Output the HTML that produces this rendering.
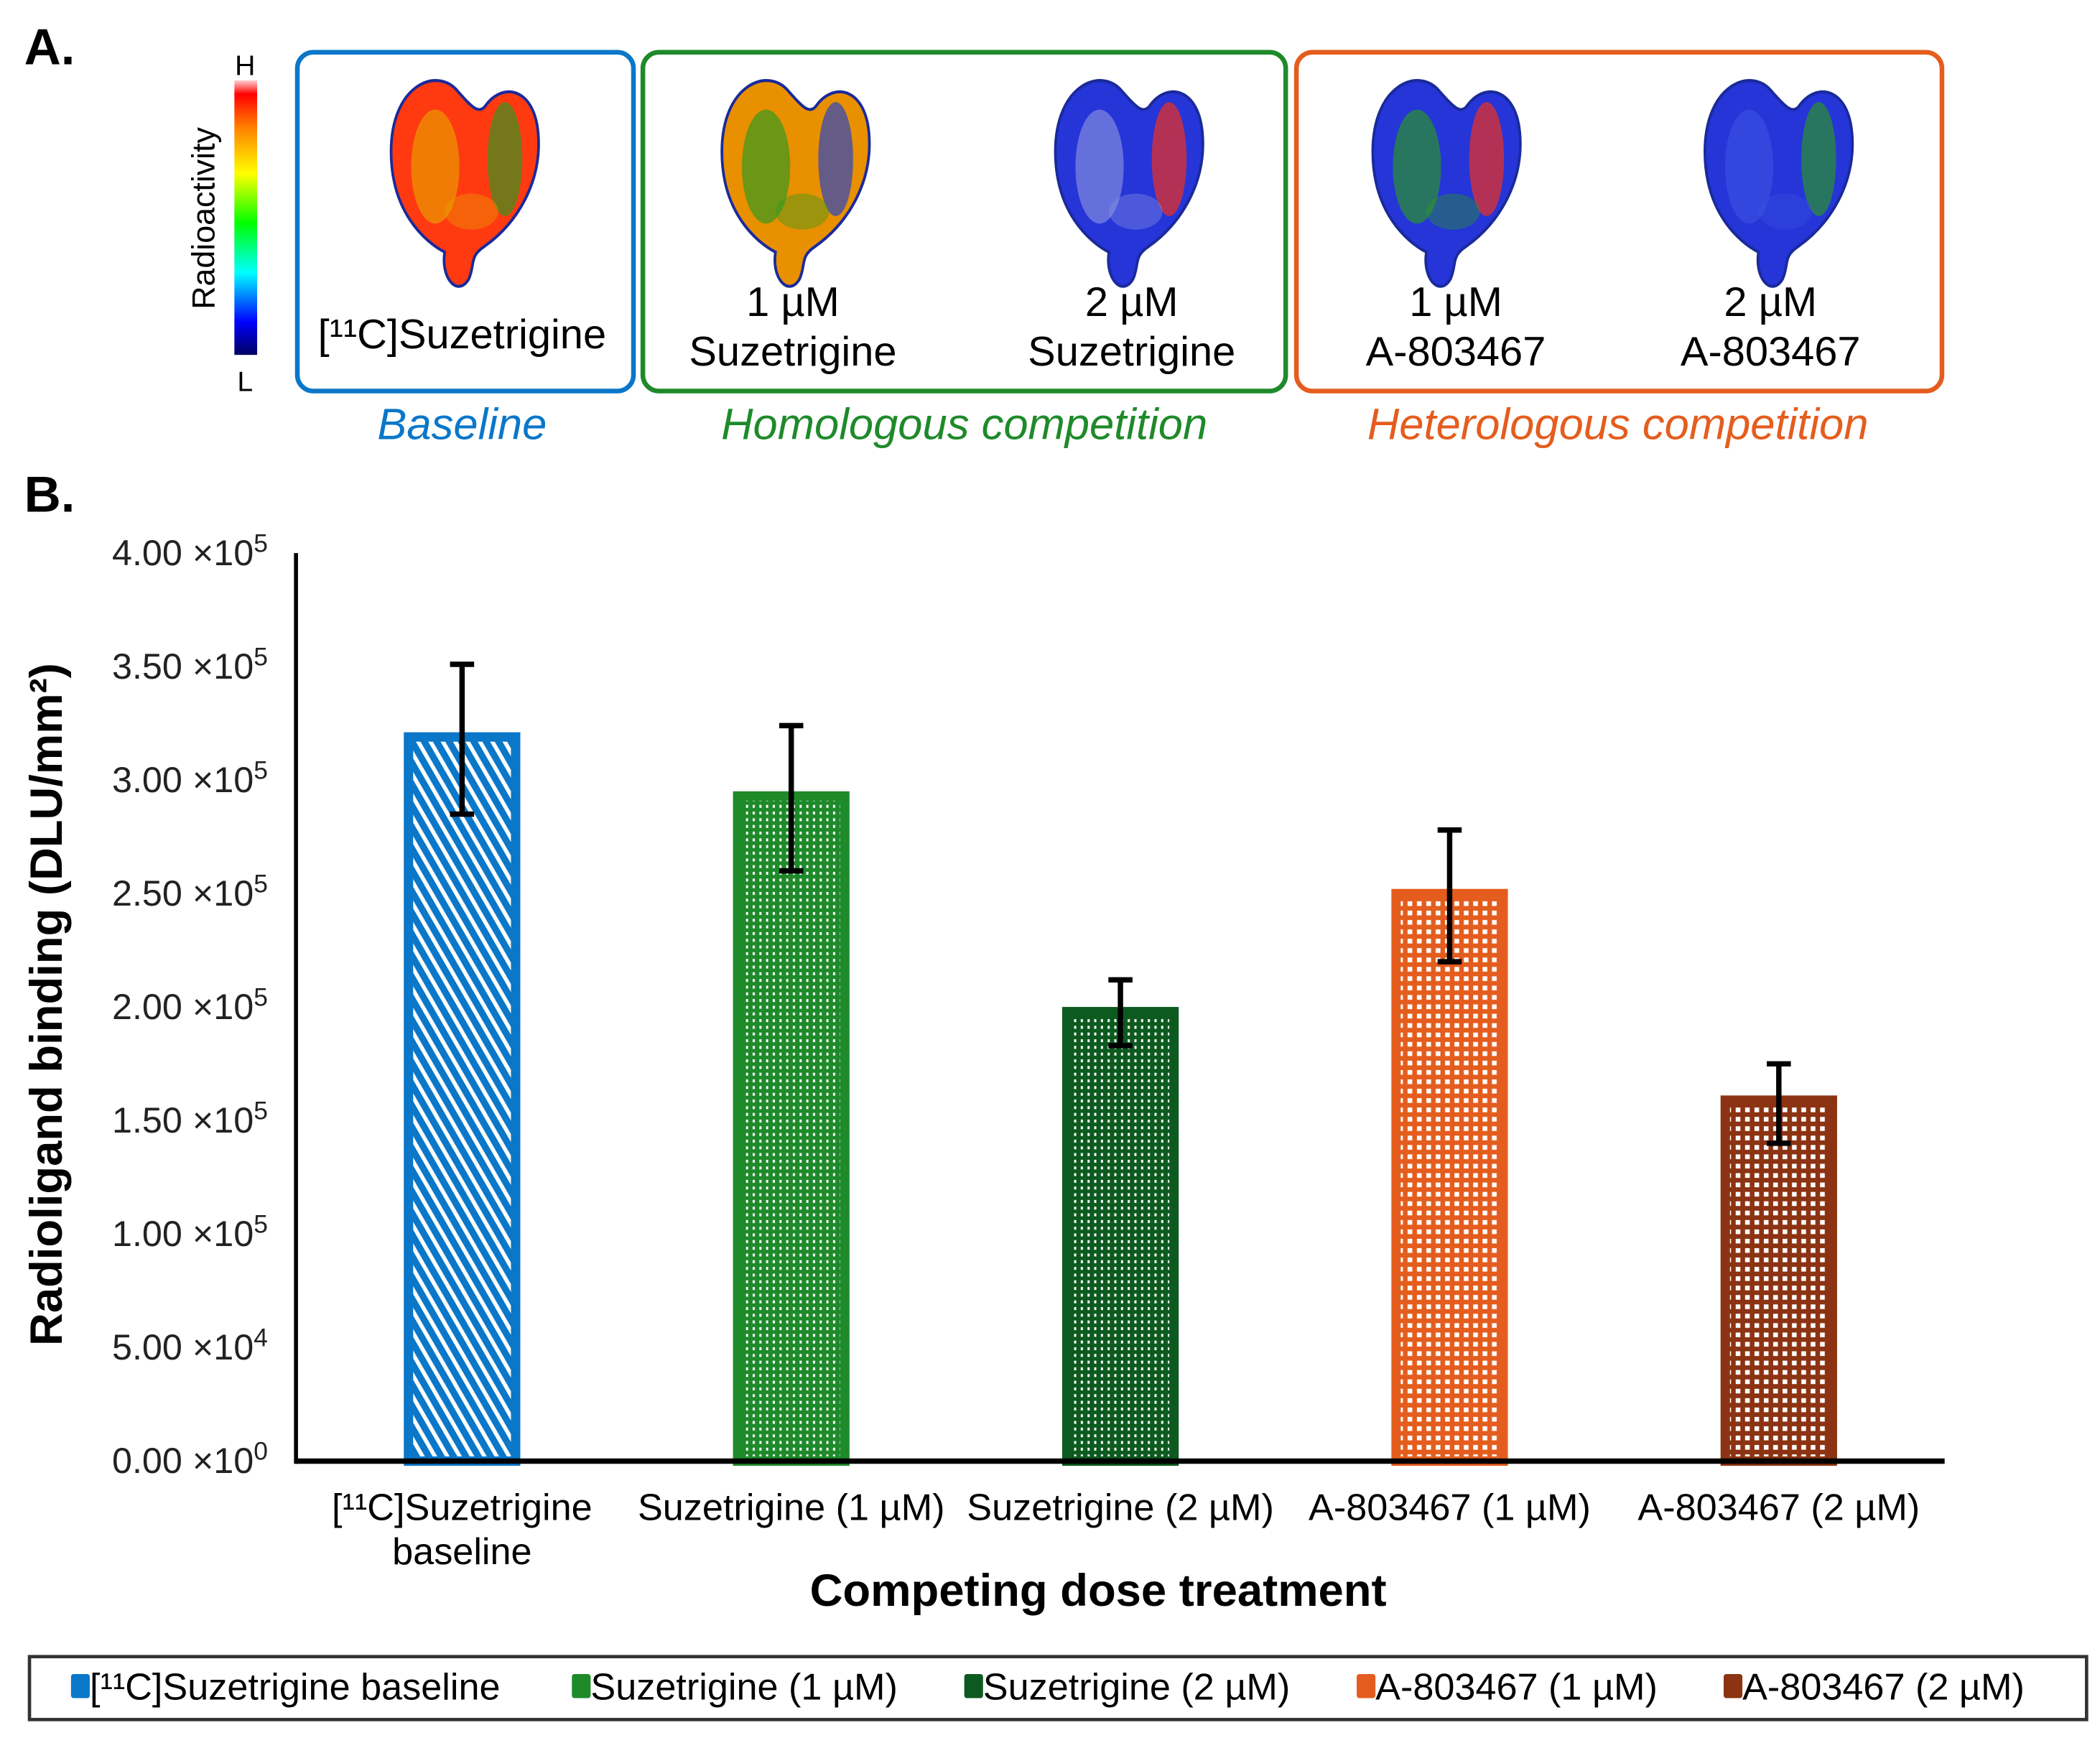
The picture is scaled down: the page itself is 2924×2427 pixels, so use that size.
<!DOCTYPE html>
<html><head><meta charset="utf-8"><style>
html,body{margin:0;padding:0;background:#fff}
svg{display:block}
text{font-family:"Liberation Sans",Arial,sans-serif}
</style></head><body>
<svg id="fig" width="2924" height="2427" viewBox="0 0 1568 1301.5" xmlns="http://www.w3.org/2000/svg">
<defs>
<linearGradient id="cbar" x1="0" y1="1" x2="0" y2="0">
<stop offset="0" stop-color="#000060"/><stop offset="0.12" stop-color="#0000ff"/><stop offset="0.3" stop-color="#00ffff"/><stop offset="0.48" stop-color="#00ff00"/><stop offset="0.66" stop-color="#ffff00"/><stop offset="0.83" stop-color="#ff7f00"/><stop offset="0.95" stop-color="#ff0000"/><stop offset="1" stop-color="#ffd0d0"/>
</linearGradient>
<pattern id="p0" width="8" height="8" patternUnits="userSpaceOnUse" patternTransform="rotate(-30)"><rect width="8" height="8" fill="#0a77c9"/><rect width="3" height="8" fill="#fff"/></pattern>
<pattern id="p1" width="5" height="5" patternUnits="userSpaceOnUse"><rect width="5" height="5" fill="#1e8a2a"/><rect x="2" y="1" width="1.6" height="2.2" fill="#fff"/></pattern>
<pattern id="p2" width="5" height="5" patternUnits="userSpaceOnUse"><rect width="5" height="5" fill="#0c5a1f"/><rect x="2" y="1" width="1.6" height="2.2" fill="#fff"/></pattern>
<pattern id="p3" width="7" height="7" patternUnits="userSpaceOnUse"><rect width="7" height="7" fill="#e45d1e"/><rect x="1" y="1" width="3.5" height="3.5" fill="#fff"/></pattern>
<pattern id="p4" width="7" height="7" patternUnits="userSpaceOnUse"><rect width="7" height="7" fill="#8b3312"/><rect x="1" y="1" width="3.5" height="3.5" fill="#fff"/></pattern>
<path id="heart" d="M-5,-55 C-20,-72 -55,-60 -55,-15 C-55,25 -30,45 -15,52 C-18,70 -5,82 3,70 C8,60 3,55 15,48 C40,32 57,5 55,-25 C53,-58 28,-62 15,-45 C10,-40 5,-45 -5,-55 Z"/>
</defs>
<g id="panelA"></g>
<g id="chart"></g>
</svg>
<script>
const categories = ["[11C]Suzetrigine baseline","Suzetrigine (1 µM)","Suzetrigine (2 µM)","A-803467 (1 µM)","A-803467 (2 µM)"];
const values = [3.19e5, 2.93e5, 1.98e5, 2.50e5, 1.59e5];
const errUpper = [3.51e5, 3.24e5, 2.12e5, 2.78e5, 1.75e5];
const errLower = [2.85e5, 2.60e5, 1.83e5, 2.20e5, 1.40e5];
const yTicks = [0, 0.5e5, 1e5, 1.5e5, 2e5, 2.5e5, 3e5, 3.5e5, 4e5];
const yTickMant = ["0.00","5.00","1.00","1.50","2.00","2.50","3.00","3.50","4.00"];
const yTickExp = ["0","4","5","5","5","5","5","5","5"];

const NS="http://www.w3.org/2000/svg";
function mk(tag, attrs, parent, txt){const e=document.createElementNS(NS,tag);for(const k in attrs)e.setAttribute(k,attrs[k]);if(txt!==undefined)e.textContent=txt;parent.appendChild(e);return e;}
const colors=["#0a77c9","#1e8a2a","#0c5a1f","#e45d1e","#8b3312"];
const X0=221,X1=1452,Y0=1091,Y1=413,yMax=4e5;
const yS=v=>Y0-(v/yMax)*(Y0-Y1);
const xS=i=>345+i*245.8;

// Panel A
const A=document.getElementById('panelA');
let t=mk('text',{x:18,y:48,'font-size':38,'font-weight':'bold'},A,'A.');

let cb=mk('rect',{x:175,y:60,width:17,height:205,fill:'url(#cbar)'},A);

t=mk('text',{x:183,y:56,'font-size':21,'text-anchor':'middle'},A,'H');
t=mk('text',{x:183,y:292,'font-size':21,'text-anchor':'middle'},A,'L');
t=mk('text',{x:160,y:163,'font-size':24,'text-anchor':'middle',transform:'rotate(-90 160 163)'},A,'Radioactivity');
const boxes=[[222,473,'#0a77c9','baseline-box'],[480,960,'#1e8a2a','homologous-box'],[968,1450,'#e45d1e','heterologous-box']];
boxes.forEach(b=>{const r=mk('rect',{x:b[0],y:39,width:b[1]-b[0],height:253,rx:12,fill:'none',stroke:b[2],'stroke-width':3.5},A);});
const hearts=[[347,'#ff3a10','#e8a000','#2a9a20'],[594,'#e89000','#2a9a20','#1f3fd0'],[843,'#2535d8','#8890e0','#ff3010'],[1080,'#2535d8','#2a9a20','#ff3010'],[1328,'#2535d8','#3a50e0','#2a9a20']];
hearts.forEach((h,i)=>{const g=mk('g',{transform:`translate(${h[0]},${130}) scale(1,1.12)`},A);
mk('use',{href:'#heart',fill:h[1],stroke:'#1a2a9a','stroke-width':2},g);
mk('ellipse',{cx:-22,cy:-5,rx:18,ry:38,fill:h[2],opacity:0.65},g);
mk('ellipse',{cx:30,cy:-10,rx:13,ry:38,fill:h[3],opacity:0.65},g);
mk('ellipse',{cx:5,cy:25,rx:20,ry:12,fill:h[2],opacity:0.4},g);});
const labs=[[345,[],'[¹¹C]Suzetrigine'],[592,['1 µM'],'Suzetrigine'],[845,['2 µM'],'Suzetrigine'],[1087,['1 µM'],'A-803467'],[1322,['2 µM'],'A-803467']];
labs.forEach((l,i)=>{if(l[1].length){t=mk('text',{x:l[0],y:236,'font-size':31,'text-anchor':'middle'},A,l[1][0]);}
t=mk('text',{x:l[0],y:l[1].length?273:260,'font-size':31,'text-anchor':'middle'},A,l[2]);});
[[345,'Baseline','#0a77c9','baseline-caption'],[720,'Homologous competition','#1e8a2a','homologous-caption'],[1208,'Heterologous competition','#e45d1e','heterologous-caption']].forEach(c=>{t=mk('text',{x:c[0],y:328,'font-size':33,'font-style':'italic','text-anchor':'middle',fill:c[2]},A,c[1]);});

// Chart
const C=document.getElementById('chart');
t=mk('text',{x:18,y:382,'font-size':38,'font-weight':'bold'},C,'B.');
yTicks.forEach((v,i)=>{const y=yS(v);const tt=mk('text',{x:200,y:y+9,'font-size':27,'text-anchor':'end',fill:'#222'},C);

const s1=document.createElementNS(NS,'tspan');s1.textContent=yTickMant[i]+' ×10';tt.appendChild(s1);
const s2=document.createElementNS(NS,'tspan');s2.setAttribute('dy','-10');s2.setAttribute('font-size','19');s2.textContent=yTickExp[i];tt.appendChild(s2);});
t=mk('text',{x:46,y:750,'font-size':34,'font-weight':'bold','text-anchor':'middle',transform:'rotate(-90 46 750)'},C,'Radioligand binding (DLU/mm²)');
values.forEach((v,i)=>{const cx=xS(i),w=80;const r=mk('rect',{x:cx-w/2,y:yS(v),width:w,height:Y0-yS(v),fill:'url(#p'+i+')',stroke:colors[i],'stroke-width':7},C);

const e=mk('g',{stroke:'#000','stroke-width':4},C);
mk('line',{x1:cx,x2:cx,y1:yS(errUpper[i]),y2:yS(errLower[i])},e);
mk('line',{x1:cx-9,x2:cx+9,y1:yS(errUpper[i]),y2:yS(errUpper[i])},e);
mk('line',{x1:cx-9,x2:cx+9,y1:yS(errLower[i]),y2:yS(errLower[i])},e);
const lab=categories[i].replace('11C','¹¹C');
if(i===0){t=mk('text',{x:cx,y:1135,'font-size':28,'text-anchor':'middle'},C,'[¹¹C]Suzetrigine');
t=mk('text',{x:cx,y:1168,'font-size':28,'text-anchor':'middle'},C,'baseline');}
else{t=mk('text',{x:cx,y:1135,'font-size':28,'text-anchor':'middle'},C,lab);}});
let ax=mk('line',{x1:X0,x2:X0,y1:Y1,y2:Y0+2,stroke:'#000','stroke-width':3},C);
ax=mk('line',{x1:X0,x2:X1,y1:Y0,y2:Y0,stroke:'#000','stroke-width':4},C);
t=mk('text',{x:820,y:1199,'font-size':34,'font-weight':'bold','text-anchor':'middle'},C,'Competing dose treatment');
const L=mk('g',{},C);
mk('rect',{x:22,y:1237,width:1536,height:47,fill:'#fff',stroke:'#333','stroke-width':2.5},L);
const lx=[53,427,720,1013,1287];
categories.forEach((c,i)=>{const g=mk('g',{},L);
mk('rect',{x:lx[i],y:1250,width:14,height:18,rx:2,fill:colors[i]},g);
mk('text',{x:lx[i]+14,y:1269,'font-size':28},g,c.replace('11C','¹¹C'));});
</script>
</body></html>
